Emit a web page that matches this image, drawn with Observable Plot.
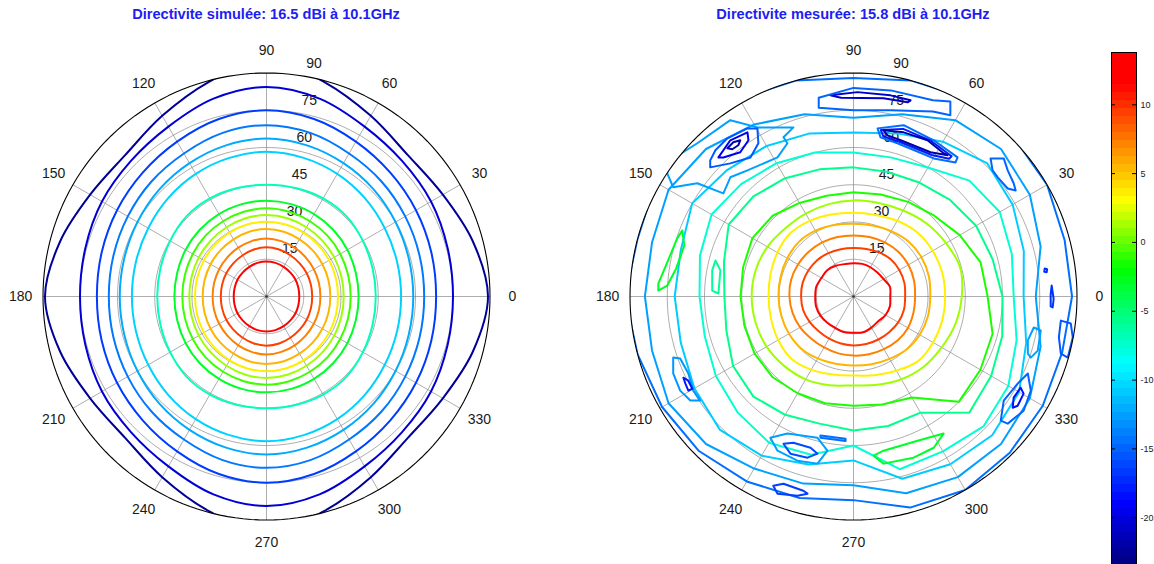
<!DOCTYPE html>
<html><head><meta charset="utf-8">
<script src="https://cdn.jsdelivr.net/npm/d3@7"></script>
<script src="https://cdn.jsdelivr.net/npm/@observablehq/plot@0.6"></script>
<style>
body{margin:0;background:#fff;font-family:"Liberation Sans",Arial,sans-serif;}
#wrap{position:relative;width:1154px;height:564px;overflow:hidden;background:#fff;}
.title{position:absolute;top:6px;width:400px;text-align:center;font-weight:bold;font-size:14.6px;line-height:16px;color:#1e1ef0;white-space:nowrap;z-index:5;}
.panel{position:absolute;}
</style></head><body>
<div id="wrap">
  <div class="panel" id="p1"></div>
  <div class="panel" id="p2"></div>
  <div class="panel" id="cb"></div>
  <div class="title" id="t1">Directivite simulée: 16.5 dBi à 10.1GHz</div>
  <div class="title" id="t2">Directivite mesurée: 15.8 dBi à 10.1GHz</div>
</div>
<script>
// ---------- data ----------
const angleTicks = [0, 30, 60, 90, 120, 150, 180, 210, 240, 270, 300, 330];
const radiusTicks = [15, 30, 45, 60, 75, 90];
const colorbarTicks = [10, 5, 0, -5, -10, -15, -20];
const colorbarRange = [-23.4, 13.8];
const colorStops = [-23.4, -19, -8.8, -2, 3, 11.5, 13.8];
const colorStopColors = ["#000080", "#0000ff", "#00ffff", "#00ff00", "#ffff00", "#ff0000", "#ff0000"];

// simulated: quarter profiles (theta in deg) at phi = 0..90 step 15 (symmetric pattern)
const simPhiQuarter = [0, 15, 30, 45, 60, 75, 90];
const simLevels = [12, 9.4, 7.25, 5.5, 3.5, 1.1, -0.8, -3.1, -7, -10.6, -12.2, -14.2, -16.6, -20.5, -22.6];
const simProfiles = [
  [13.2, 13.3, 13.5, 13.6, 13.8, 14, 14.1],
  [18.4, 18.5, 18.7, 18.9, 19.2, 19.6, 19.8],
  [21.7, 21.8, 22, 22.3, 22.7, 23.1, 23.4],
  [25.7, 25.8, 26, 26.3, 26.6, 27, 27.2],
  [28.8, 28.9, 29.1, 29.4, 29.7, 30, 30.1],
  [31.1, 31.2, 31.5, 31.8, 32.2, 32.6, 32.8],
  [33.9, 34, 34.3, 34.7, 35, 35.3, 35.5],
  [37.1, 37.2, 37.6, 38, 38.3, 38.5, 38.6],
  [44, 44.2, 44.8, 45.6, 45.6, 45.2, 45],
  [54.2, 54.4, 55, 56, 57, 57.8, 58.3],
  [59.1, 59.3, 60, 61, 62, 63, 63.6],
  [63.5, 63.8, 64.5, 65.5, 66.5, 68.2, 69],
  [68.3, 68.7, 69.5, 70.5, 72, 74, 75],
  [75.1, 75.5, 76.5, 77.2, 79, 82.5, 84.4],
  [89.2, 86, 82, 80.5, 84, 89.5, 96]
];

// measured: rings, theta at phi = 0..345 step 15
const measPhi = [0,15,30,45,60,75,90,105,120,135,150,165,180,195,210,225,240,255,270,285,300,315,330,345];
const measRingLevels = [12, 9.4, 7.25, 5.5, 3.5, 1.1, -1.5, -5.7, -7.6, -10.8, -12.6, -14.6];
const measRingRadii = [
  [14.8,15.2,14,13.6,13.6,13.6,13.4,13.5,14.3,15,14.9,15.5,15.4,15.6,15.4,14.9,14.6,14.8,14.6,14.9,14.4,14.1,14.9,15.2],
  [20.8,21.2,21.3,21.2,20.5,19.8,19.5,19.7,20.2,20.7,21,21.2,21.1,21,20.4,19.8,19.6,19.6,19.7,19.8,20,20.3,20.8,21],
  [24.8,25.2,25.5,25.5,25.2,24.8,24.6,24.8,25.2,25.5,25.8,26,25.8,25.4,24.8,24,23.7,23.7,23.8,24.1,24.5,25.1,25.3,25],
  [30.9,31.4,31.6,31.3,30.4,29.6,29.3,29.8,30.6,31.1,30.8,30.4,30.2,30.1,30,29.7,28.8,28,27.8,28.2,29,30.2,30.8,31],
  [36.9,37,36.8,36.4,35.2,34,33.7,34.2,35.2,36,35.4,34.6,34.2,34.4,35,35.4,34,32.5,31.8,32.8,34.5,36.8,37,37],
  [43.6,44.5,43,41.6,40,39,38.7,38.5,38.5,38.8,40,40.8,41,40.8,40.4,39.5,38.5,37,35.8,36.8,38.5,40,41,42.5],
  [54,53,49.4,46,44,42.5,42,42,43.5,46,47,46,45.5,45.5,46,46,45,44.5,44,45,47,60,59,58],
  [60,58,57,55,53,52,52,53,55,57,58,54,52,53,56,57,55,53,54,54,54,66,64,62],
  [64.5,66,68,66,60,58,58,60,62,64,66,64,62,62,64,66,68,66,60,72,72,74,72,68],
  [68.5,71,74,76,72,68,66,68,70,72,75,72,72,72,74,76,74,70,66,76,78,79,77,72],
  [73.4,78,82,84,82,76,72,76,80,84,86,84,84,84,86,84,80,78,76,82,84,84,82,78],
  [88,88,90,91,92,90,88,90,92,91,92,90,92,90,89,88,86,84,82,88,90,89,88,87]
];
// measured: islands, points as [u, v] = theta*(cos phi, sin phi)
const measIslandLevels = [-12.6, -15.5, -19.5, -22, -14.6, -18, -22, -21, -15, -16.5, -16, -12.6, -14.6, -13, -18, -15, -18.5, -12.6, -15.5, -17, -17, -15, -3, -6, -3];
const measIslandPoints = [
  [[-75,49.6],[-73.8,54.8],[-62.9,61.7],[-49.6,71],[-38.7,68.1],[-24.2,68.1],[-28.2,64.1],[-26.6,61.7],[-30.6,56],[-42.7,50.8],[-49.6,48],[-52.4,41.5],[-62.9,45.6],[-72.6,44]],
  [[-57.7,54.8],[-55.6,58.9],[-50.8,63.7],[-42.7,67.7],[-38.7,67.7],[-38.3,61.7],[-41.5,56],[-49.6,53.6],[-57.7,52]],
  [[-54.4,56],[-49.6,62.9],[-42.7,66.1],[-42.3,62.9],[-45.6,58.1],[-52.4,56]],
  [[-50.8,59.7],[-48.4,62.1],[-45.6,62.9],[-46.4,60.9],[-48.8,59.3]],
  [[9.7,67.7],[20.2,69],[32.3,62.9],[41.9,56],[41.1,54],[32.3,55.6],[17.7,61.7],[10.9,64.1]],
  [[11,67],[20,67.5],[31,62.8],[39.5,56.5],[38.5,55.5],[31.5,57],[18.5,62.3],[12,64.5]],
  [[12.1,66.9],[20.2,66.1],[29.8,62.9],[36.3,57.7],[37.9,56.9],[31,58.1],[19,62.9],[13.7,64.9]],
  [[-9.3,81],[1.6,82.3],[14.9,81],[23,79],[21.8,78.2],[12.1,79.8],[-5,80]],
  [[-14,80],[0,84],[15,83],[32,79],[39,78.5],[39,73],[32,74.5],[15,75],[0,75],[-14,76]],
  [[-32.3,-76.2],[-28.2,-75.4],[-20.2,-78.2],[-18.5,-79.4],[-22.6,-80.2],[-30.6,-79.4]],
  [[-28.2,-59.3],[-24.2,-58.9],[-17.3,-60.9],[-14.5,-63.3],[-18.5,-64.9],[-25.4,-63.3]],
  [[-33.5,-56.9],[-26.6,-55.2],[-14.5,-56.9],[-10.5,-62.1],[-14.5,-67.3],[-22.6,-66.1],[-30.6,-62.1]],
  [[-13.3,-56],[-3.2,-57.3],[-3.2,-58.2],[-13.3,-56.9]],
  [[-72.6,-24.6],[-69.8,-25],[-66.5,-31],[-64.5,-37.9],[-61.7,-41.9],[-65.7,-41.9],[-69.8,-37.9],[-72.6,-31]],
  [[-68.5,-32.7],[-66.5,-33.9],[-64.9,-37.1],[-66.5,-37.9],[-67.7,-35.1]],
  [[60.5,-41.9],[66.1,-35.1],[70.2,-31],[71.4,-37.9],[68.5,-46],[62.1,-51.2],[59.3,-50]],
  [[64.5,-40.7],[67.3,-36.7],[68.5,-39.1],[66.1,-44],[64.1,-44.8]],
  [[70.2,-17.7],[72.6,-12.5],[75.4,-13.7],[74.2,-21.8],[71.4,-24.6],[70.2,-23]],
  [[83.5,-9.7],[87.5,-10.9],[88.3,-16.5],[86.3,-24.6],[83.5,-23],[82.7,-16.5]],
  [[79.8,4.4],[80.6,-1],[80.2,-4.4],[79.4,-4],[79.4,1]],
  [[77,11.3],[78,11],[77.8,9.8],[76.8,10]],
  [[55.2,55.6],[60.5,55.6],[62.1,50.8],[64.5,45.6],[65.3,42.7],[62.1,43.5],[58.1,48],[56,50.8]],
  [[-69,26.6],[-68.1,20.6],[-71.4,11.3],[-75,4.4],[-78.6,2.4],[-78.6,5.2],[-75,13.7],[-71,23.4]],
  [[-55.6,14.5],[-53.6,10.5],[-54.4,1.2],[-56.9,2.4],[-56.9,10.5]],
  [[8.1,-64.1],[12.1,-62.1],[25.8,-58.1],[36.3,-55.2],[32.3,-60.9],[24.2,-64.9],[12.1,-67.3]]
];

// ---------- layout ----------
const CY = 296, R = 223.5, H = 262;
const centers = [266, 853];
const D = H / R * 90;
const rad = Math.PI / 180;
const FONT = "'Liberation Sans', Arial, sans-serif";

const colorOpts = {type: "linear", domain: colorStops, range: colorStopColors, interpolate: "rgb"};

const simRings = simProfiles.map((prof, k) => {
  const pts = [];
  for (let phi = 0; phi < 360; phi += 15) {
    const q = phi % 180, a = q <= 90 ? q : 180 - q;
    const t = prof[simPhiQuarter.indexOf(a)];
    pts.push({id: "s" + k, level: simLevels[k], x: t * Math.cos(phi * rad), y: t * Math.sin(phi * rad)});
  }
  return pts;
}).flat();

const measRings = measRingRadii.map((rr, k) => rr.map((t, i) => ({
  id: "m" + k, k, level: measRingLevels[k], x: t * Math.cos(measPhi[i] * rad), y: t * Math.sin(measPhi[i] * rad)
}))).flat();

const measIslands = measIslandPoints.map((pts, k) => pts.map(([u, v]) => ({
  id: "i" + k, level: measIslandLevels[k], x: u, y: v
}))).flat();

function gridCircles() {
  const out = [];
  for (const r of radiusTicks) for (let a = 0; a <= 360; a += 2)
    out.push({r, x: r * Math.cos(a * rad), y: r * Math.sin(a * rad)});
  return out;
}
const gridPts = gridCircles();

function polarPanel(contourMarks) {
  return Plot.plot({
    width: 2 * H, height: 2 * H, margin: 0,
    x: {domain: [-D, D], axis: null},
    y: {domain: [-D, D], axis: null},
    color: colorOpts,
    style: {background: "transparent", overflow: "visible", fontFamily: FONT},
    marks: [
      Plot.link(angleTicks, {x1: 0, y1: 0, x2: a => 90 * Math.cos(a * rad), y2: a => 90 * Math.sin(a * rad), stroke: "#8a8a8a", strokeWidth: 0.7}),
      Plot.line(gridPts.filter(d => d.r < 90), {x: "x", y: "y", z: "r", stroke: "#8a8a8a", strokeWidth: 0.7}),
      Plot.text(angleTicks, {x: a => 99 * Math.cos(a * rad), y: a => 99 * Math.sin(a * rad), text: a => String(a), fontSize: 14, fill: "#1a1a1a", textAnchor: "middle", lineAnchor: "middle"}),
      Plot.text(radiusTicks, {x: r => r * Math.cos(82.5 * rad) + 7.4, y: r => r * Math.sin(82.5 * rad) + 4.5, text: r => String(r), fontSize: 14, fill: "#1a1a1a", textAnchor: "middle", lineAnchor: "middle"}),
      ...contourMarks,
      Plot.line(gridPts.filter(d => d.r === 90), {x: "x", y: "y", stroke: "black", strokeWidth: 1.1}),
      Plot.dot([0], {x: 0, y: 0, r: 1.3, fill: "#333"})
    ]
  });
}

function addClip(svg, id) {
  let cx = H, cy = H, r = R;
  try {
    const sx = svg.scale("x"), sy = svg.scale("y");
    cx = sx.apply(0); cy = sy.apply(0); r = Math.abs(sx.apply(90) - cx);
  } catch (e) {}
  const ns = "http://www.w3.org/2000/svg";
  const defs = document.createElementNS(ns, "defs");
  const cp = document.createElementNS(ns, "clipPath");
  cp.setAttribute("id", id);
  const c = document.createElementNS(ns, "circle");
  c.setAttribute("cx", cx); c.setAttribute("cy", cy); c.setAttribute("r", r);
  cp.appendChild(c); defs.appendChild(cp);
  svg.insertBefore(defs, svg.firstChild);
  svg.querySelectorAll(".contour").forEach(g => g.setAttribute("clip-path", `url(#${id})`));
}

const lineStyle = {x: "x", y: "y", z: "id", stroke: "level", strokeWidth: 2, strokeLinejoin: "round", className: "contour"};

const svg1 = polarPanel([
  Plot.line(simRings, {...lineStyle, curve: "catmull-rom-closed"})
]);
addClip(svg1, "clipL");
const svg2 = polarPanel([
  Plot.line(measRings.filter(d => d.k < 6), {...lineStyle, curve: "catmull-rom-closed"}),
  Plot.line(measRings.filter(d => d.k >= 6), {...lineStyle, curve: "linear-closed"}),
  Plot.line(measIslands, {...lineStyle, curve: "linear-closed"})
]);
addClip(svg2, "clipR");

const p1 = document.getElementById("p1"), p2 = document.getElementById("p2");
p1.style.left = (centers[0] - H) + "px"; p1.style.top = (CY - H) + "px"; p1.style.width = 2 * H + "px";
p2.style.left = (centers[1] - H) + "px"; p2.style.top = (CY - H) + "px"; p2.style.width = 2 * H + "px";
p1.appendChild(svg1); p2.appendChild(svg2);
document.getElementById("t1").style.left = (centers[0] - 200) + "px";
document.getElementById("t2").style.left = (centers[1] - 200) + "px";

// ---------- colorbar ----------
const [lo, hi] = colorbarRange;
const nb = 64, st = (hi - lo) / nb;
const bands = d3.range(nb).map(i => ({y1: lo + i * st, y2: lo + (i + 1) * st, v: lo + (i + 0.5) * st}));
const cb = Plot.plot({
  width: 54, height: 564, marginTop: 52, marginBottom: 0, marginLeft: 11, marginRight: 18,
  x: {domain: [0, 1], axis: null},
  y: {domain: colorbarRange, axis: "right", ticks: colorbarTicks, tickSize: 0, tickPadding: 4, label: null, tickFormat: d => String(d)},
  color: colorOpts,
  style: {background: "transparent", overflow: "visible", fontFamily: FONT, fontSize: "9px", color: "#1a1a1a"},
  marks: [
    Plot.rect(bands, {x1: 0, x2: 1, y1: "y1", y2: "y2", fill: "v"}),
    Plot.ruleY(colorbarTicks, {x1: 0, x2: 0.16, stroke: "black"}),
    Plot.ruleY(colorbarTicks, {x1: 0.84, x2: 1, stroke: "black"}),
    Plot.frame({stroke: "black"})
  ]
});
const cbDiv = document.getElementById("cb");
cbDiv.style.left = "1100px"; cbDiv.style.top = "0px"; cbDiv.style.width = "54px";
cbDiv.appendChild(cb);
</script>
</body></html>
